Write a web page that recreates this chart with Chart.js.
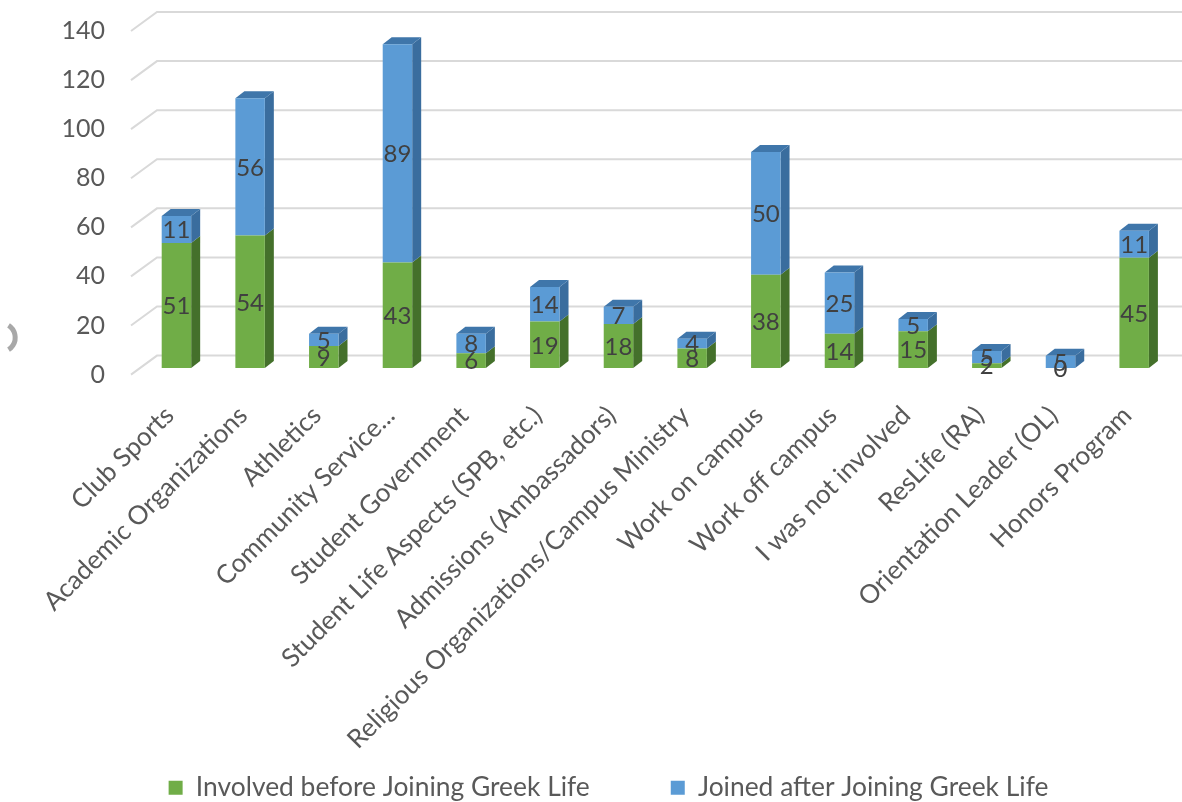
<!DOCTYPE html>
<html>
<head>
<meta charset="utf-8">
<style>
  html, body { margin: 0; padding: 0; background: #fff; }
  #wrap { width: 1182px; height: 802px; position: relative; }
</style>
<script src="https://cdn.jsdelivr.net/npm/chart.js@4"></script>
</head>
<body>
<div id="wrap"><canvas id="chart" width="1182" height="802"></canvas></div>
<script>
const categories = ["Club Sports", "Academic Organizations", "Athletics", "Community Service...",
  "Student Government", "Student Life Aspects (SPB, etc.)", "Admissions (Ambassadors)",
  "Religious Organizations/Campus Ministry", "Work on campus", "Work off campus",
  "I was not involved", "ResLife (RA)", "Orientation Leader (OL)", "Honors Program"];
const involvedBefore = [51, 54, 9, 43, 6, 19, 18, 8, 38, 14, 15, 2, 0, 45];
const joinedAfter = [11, 56, 5, 89, 8, 14, 7, 4, 50, 25, 5, 5, 5, 11];
const seriesNames = ["Involved before Joining Greek Life", "Joined after Joining Greek Life"];

const FONT = "Lato";
const TEXT = "#595959";
const GREEN = { front: "#70ad47", side: "#44702b", top: "#4f7f33" };
const BLUE = { front: "#5b9bd5", side: "#3a6d9e", top: "#3f76aa" };
const DEPTH_X = 9, DEPTH_Y = 7;

const fakeDepth = {
  id: "fakeDepth",
  beforeDatasetsDraw(chart) {
    const ctx = chart.ctx, y = chart.scales.y;
    ctx.save();
    // floor and back-wall gridlines
    ctx.strokeStyle = "#d9d9d9";
    ctx.lineWidth = 2;
    y.ticks.forEach(t => {
      const py = y.getPixelForValue(t.value);
      ctx.beginPath();
      ctx.moveTo(131, py + 6.5);
      ctx.lineTo(157, py - 12.5);
      ctx.lineTo(1182, py - 12.5);
      ctx.stroke();
    });
    // value axis labels sit on the front edge of the floor
    ctx.fillStyle = TEXT;
    ctx.font = "25px " + FONT;
    ctx.textAlign = "right";
    ctx.textBaseline = "middle";
    y.ticks.forEach(t => ctx.fillText(t.label, 105, y.getPixelForValue(t.value) + 6.5));
    // stray scroll marker on the left edge
    ctx.strokeStyle = "#a8a8a8";
    ctx.lineWidth = 5;
    ctx.beginPath();
    ctx.arc(0.7, 337.5, 14.5, -1, 1);
    ctx.stroke();
    // side faces, then the cap of the top segment
    chart.data.datasets.forEach((ds, i) => {
      const colors = i === 0 ? GREEN : BLUE;
      chart.getDatasetMeta(i).data.forEach(bar => {
        const r = bar.x + bar.width / 2, l = bar.x - bar.width / 2;
        ctx.fillStyle = colors.side;
        ctx.beginPath();
        ctx.moveTo(r, bar.base);
        ctx.lineTo(r + DEPTH_X, bar.base - DEPTH_Y);
        ctx.lineTo(r + DEPTH_X, bar.y - DEPTH_Y);
        ctx.lineTo(r, bar.y);
        ctx.closePath();
        ctx.fill();
        if (i === chart.data.datasets.length - 1) {
          ctx.fillStyle = colors.top;
          ctx.beginPath();
          ctx.moveTo(l, bar.y);
          ctx.lineTo(l + DEPTH_X, bar.y - DEPTH_Y);
          ctx.lineTo(r + DEPTH_X, bar.y - DEPTH_Y);
          ctx.lineTo(r, bar.y);
          ctx.closePath();
          ctx.fill();
        }
      });
    });
    ctx.restore();
  },
  afterDatasetsDraw(chart) {
    const ctx = chart.ctx;
    ctx.save();
    ctx.fillStyle = "#404040";
    ctx.font = "24px " + FONT;
    ctx.textAlign = "center";
    ctx.textBaseline = "middle";
    chart.data.datasets.forEach((ds, i) => {
      chart.getDatasetMeta(i).data.forEach((bar, j) => {
        ctx.fillText(String(ds.data[j]), bar.x, (bar.y + bar.base) / 2 + 1);
      });
    });
    ctx.restore();
  }
};

new Chart(document.getElementById("chart"), {
  type: "bar",
  data: {
    labels: categories,
    datasets: [
      { label: seriesNames[0], data: involvedBefore, backgroundColor: GREEN.front, barPercentage: 0.4, categoryPercentage: 1 },
      { label: seriesNames[1], data: joinedAfter, backgroundColor: BLUE.front, barPercentage: 0.4, categoryPercentage: 1 }
    ]
  },
  plugins: [fakeDepth],
  options: {
    responsive: false,
    animation: false,
    layout: { padding: { left: 46, right: 11, top: 24.5, bottom: -9 } },
    plugins: {
      tooltip: { enabled: false },
      legend: {
        position: "bottom",
        labels: {
          color: TEXT,
          font: { family: FONT, size: 26.4 },
          boxWidth: 14,
          boxHeight: 14,
          padding: 81
        }
      }
    },
    scales: {
      x: {
        stacked: true,
        grid: { display: false },
        border: { display: false },
        ticks: {
          color: TEXT,
          font: { family: FONT, size: 26 },
          minRotation: 45,
          maxRotation: 45,
          autoSkip: false,
          padding: 24,
          labelOffset: -7
        },
        afterFit(s) {
          s.height = 325.5;
          // long rotated labels run past the axis box, so leave them unclipped
          s._computeLabelArea = () => undefined;
        }
      },
      y: {
        stacked: true,
        min: 0,
        max: 140,
        grid: { display: false },
        border: { display: false },
        ticks: { display: false, stepSize: 20 },
        afterFit(s) { s.width = 93.6; }
      }
    }
  }
});
</script>
</body>
</html>
